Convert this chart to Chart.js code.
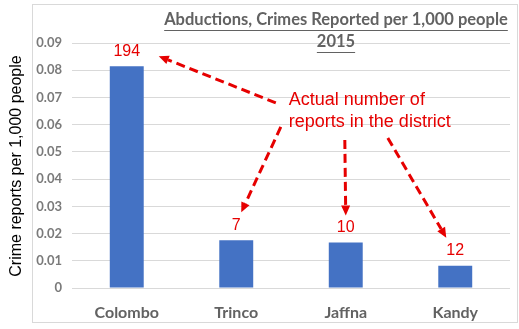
<!DOCTYPE html>
<html>
<head>
<meta charset="utf-8">
<script src="https://cdn.jsdelivr.net/npm/chart.js@4.4.1/dist/chart.umd.min.js"></script>
<style>
  html, body { margin: 0; padding: 0; background: #ffffff; }
  #wrap { width: 519px; height: 329px; }
</style>
</head>
<body>
<div id="wrap"><canvas id="c" width="519" height="329"></canvas></div>
<script>
// District crime-report rates, 2015
const districts = ['Colombo', 'Trinco', 'Jaffna', 'Kandy'];
const ratePer1000 = [0.0815, 0.0175, 0.0167, 0.0082];
const reportCounts = [194, 7, 10, 12];
const yTickLabels = ['0', '0.01', '0.02', '0.03', '0.04', '0.05', '0.06', '0.07', '0.08', '0.09'];
const titleLines = ['Abductions, Crimes Reported per 1,000 people', '2015'];
const yAxisTitle = 'Crime reports per 1,000 people';
const calloutLines = ['Actual number of', 'reports in the district'];

const RED = '#e60000';
const GREY_TEXT = '#626262';
const FONT = 'Lato, "Open Sans", sans-serif';
const ARIAL = '"Liberation Sans", Arial, sans-serif';

function drawArrow(ctx, x1, y1, x2, y2) {
  const ang = Math.atan2(y2 - y1, x2 - x1);
  const headLen = 10, headHalf = 4.5;
  const bx = x2 - Math.cos(ang) * headLen;
  const by = y2 - Math.sin(ang) * headLen;
  ctx.save();
  ctx.strokeStyle = RED;
  ctx.fillStyle = RED;
  ctx.lineWidth = 3;
  ctx.setLineDash([9, 5]);
  ctx.beginPath();
  ctx.moveTo(x1, y1);
  ctx.lineTo(bx, by);
  ctx.stroke();
  ctx.setLineDash([]);
  ctx.beginPath();
  ctx.moveTo(x2, y2);
  ctx.lineTo(bx + Math.sin(ang) * headHalf, by - Math.cos(ang) * headHalf);
  ctx.lineTo(bx - Math.sin(ang) * headHalf, by + Math.cos(ang) * headHalf);
  ctx.closePath();
  ctx.fill();
  ctx.restore();
}

const decorations = {
  id: 'decorations',
  beforeDraw(chart) {
    const ctx = chart.ctx;
    ctx.save();
    ctx.fillStyle = '#ffffff';
    ctx.fillRect(0, 0, chart.width, chart.height);
    ctx.strokeStyle = '#d9d9d9';
    ctx.lineWidth = 1;
    ctx.strokeRect(32.5, 4.5, 485, 318);
    ctx.restore();
  },
  afterDraw(chart) {
    const ctx = chart.ctx;
    const xs = chart.scales.x, ys = chart.scales.y;
    ctx.save();

    // chart title, bold and underlined
    ctx.fillStyle = GREY_TEXT;
    ctx.strokeStyle = GREY_TEXT;
    ctx.font = 'bold 16.5px ' + FONT;
    ctx.textAlign = 'center';
    ctx.textBaseline = 'middle';
    const tcx = 336;
    titleLines.forEach((t, i) => {
      const ty = 20 + i * 22;
      ctx.fillText(t, tcx, ty);
      const w = ctx.measureText(t).width;
      ctx.lineWidth = 1;
      ctx.beginPath();
      ctx.moveTo(tcx - w / 2, ty + 10.5);
      ctx.lineTo(tcx + w / 2, ty + 10.5);
      ctx.stroke();
    });

    // y axis title
    ctx.save();
    ctx.translate(17, 166);
    ctx.rotate(-Math.PI / 2);
    ctx.fillStyle = '#000000';
    ctx.font = '16px ' + ARIAL;
    ctx.fillText(yAxisTitle, 0, 0);
    ctx.restore();

    // report counts above each bar
    ctx.fillStyle = RED;
    ctx.font = '16px ' + ARIAL;
    const labelPos = reportCounts.map((n, i) => {
      const px = xs.getPixelForValue(i);
      const py = ys.getPixelForValue(ratePer1000[i]) - 15;
      ctx.fillText(String(n), px, py);
      return { x: px, y: py };
    });

    // callout text placed in data space
    const cx = xs.getPixelForValue(1.48);
    const cy = ys.getPixelForValue(0.0691);
    ctx.textAlign = 'left';
    ctx.font = '18px ' + ARIAL;
    calloutLines.forEach((t, i) => ctx.fillText(t, cx, cy + i * 22));

    // arrows from the callout to each count
    const tails = [[-13, 3], [-8, 27], [56, 40], [99, 38]];
    const heads = [[32, 5], [5, -13], [0, -12], [-9, -13]];
    labelPos.forEach((p, i) => {
      drawArrow(ctx, cx + tails[i][0], cy + tails[i][1], p.x + heads[i][0], p.y + heads[i][1]);
    });
    ctx.restore();
  }
};

new Chart(document.getElementById('c'), {
  type: 'bar',
  data: {
    labels: districts,
    datasets: [{
      data: ratePer1000,
      backgroundColor: '#4472c4',
      borderWidth: 0,
      barPercentage: 0.31,
      categoryPercentage: 1
    }]
  },
  options: {
    responsive: false,
    animation: false,
    devicePixelRatio: 1,
    layout: { padding: { left: 0, right: 9, top: 43, bottom: 0 } },
    plugins: { legend: { display: false }, tooltip: { enabled: false }, title: { display: false } },
    scales: {
      x: {
        grid: { display: false, drawTicks: false },
        border: { display: false },
        ticks: { color: GREY_TEXT, font: { family: FONT, size: 16, weight: 'bold' }, padding: 15 },
        afterFit(s) { s.height = 41; }
      },
      y: {
        min: 0,
        max: 0.09,
        grid: { color: '#d9d9d9', lineWidth: 1, drawTicks: false },
        border: { display: false },
        ticks: {
          stepSize: 0.01,
          color: '#7a7a7a',
          padding: 10,
          font: { family: FONT, size: 13, weight: 'bold' },
          callback: (v, i) => yTickLabels[i]
        },
        afterFit(s) { s.width = 72; }
      }
    }
  },
  plugins: [decorations]
});
</script>
</body>
</html>
